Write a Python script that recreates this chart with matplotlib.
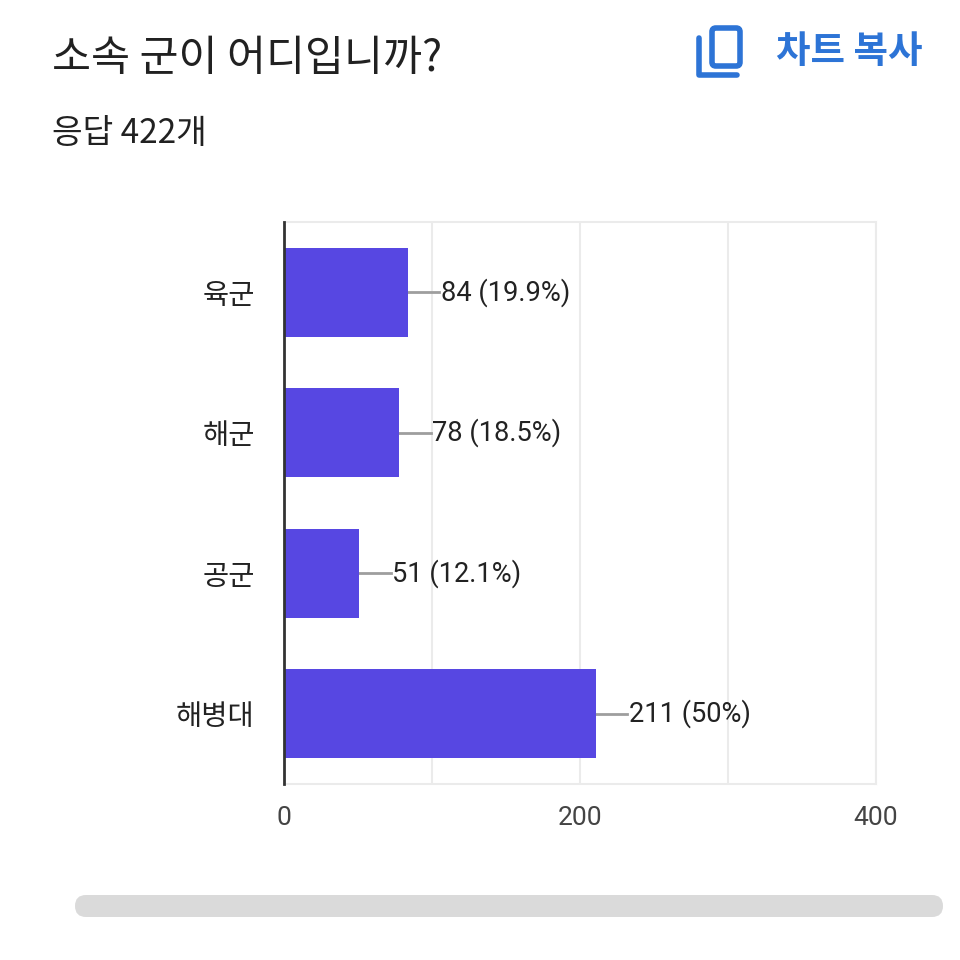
import matplotlib
matplotlib.use("Agg")
import matplotlib.pyplot as plt
from matplotlib.patches import FancyBboxPatch
from matplotlib.lines import Line2D

plt.rcParams['font.family'] = ['Roboto', 'Noto Sans CJK KR', 'DejaVu Sans']

categories = ['육군', '해군', '공군', '해병대']
counts = [84, 78, 51, 211]
percents = ['19.9%', '18.5%', '12.1%', '50%']
xticks = [0, 200, 400]
title = '소속 군이 어디입니까?'
subtitle = '응답 422개'
copy_label = '차트 복사'

W = H = 960
fig = plt.figure(figsize=(9.6, 9.6), dpi=100)
fig.patch.set_facecolor('white')

ax = fig.add_axes([284 / W, 1 - 784 / H, (876 - 284) / W, (784 - 222) / H])
y = list(range(len(categories)))
ax.barh(y, counts, height=0.63, color='#5747E2', zorder=3)
ax.set_xlim(0, 400)
ax.set_ylim(len(categories) - 0.5, -0.5)
ax.set_xticks([0, 100, 200, 300, 400])
ax.set_xticklabels([str(t) if t in xticks else '' for t in [0, 100, 200, 300, 400]])
ax.set_yticks(y)
ax.set_yticklabels(categories, family=['Noto Sans CJK KR'])
ax.tick_params(axis='x', length=0, pad=16, labelsize=19, labelcolor='#444444')
ax.tick_params(axis='y', length=0, pad=21, labelsize=20.5, labelcolor='#222222')
ax.grid(axis='x', color='#ebebeb', linewidth=1.5, zorder=0)
for s in ['top', 'right', 'bottom']:
    ax.spines[s].set_color('#ebebeb')
    ax.spines[s].set_linewidth(1.5)
ax.spines['left'].set_color('#333333')
ax.spines['left'].set_linewidth(2)
ax.spines['left'].set_zorder(4)

for yi, c, p in zip(y, counts, percents):
    ax.plot([c, c + 21], [yi, yi], color='#9e9e9e', linewidth=2, zorder=2)
    ax.text(c + 22, yi, f'{c} ({p})', va='center', ha='left', fontsize=19.6,
            color='#222222', family=['Roboto', 'Noto Sans CJK KR'])

# Header
fig.text(52 / W, 1 - 59 / H, title, fontsize=30.5, color='#212121', va='center',
         ha='left', family=['Noto Sans CJK KR', 'Roboto'])
fig.text(52 / W, 1 - 134 / H, subtitle, fontsize=24, color='#212121', va='center',
         ha='left', family=['Noto Sans CJK KR', 'Roboto'])
fig.text(776 / W, 1 - 51 / H, copy_label, fontsize=27, color='#2d74d6', va='center',
         ha='left', fontweight='bold', family=['Noto Sans CJK KR', 'Roboto'])

# copy icon
blue = '#2d74d6'
fig.patches.append(FancyBboxPatch((712 / W, 1 - 66 / H), 28 / W, 38 / H,
                                  boxstyle='round,pad=0,rounding_size=0.004',
                                  transform=fig.transFigure, fill=False,
                                  edgecolor=blue, linewidth=4))
fig.lines.append(Line2D([699 / W, 699 / W, 737 / W], [1 - 38 / H, 1 - 75 / H, 1 - 75 / H],
                        transform=fig.transFigure, color=blue, linewidth=4,
                        solid_capstyle='round', solid_joinstyle='round'))

# scrollbar
fig.patches.append(FancyBboxPatch((75 / W, 1 - 917 / H), (943 - 75) / W, 22 / H,
                                  boxstyle='round,pad=0,rounding_size=0.0114',
                                  transform=fig.transFigure, facecolor='#dadada',
                                  edgecolor='none'))

fig.savefig('out.png', dpi=100, facecolor='white')
